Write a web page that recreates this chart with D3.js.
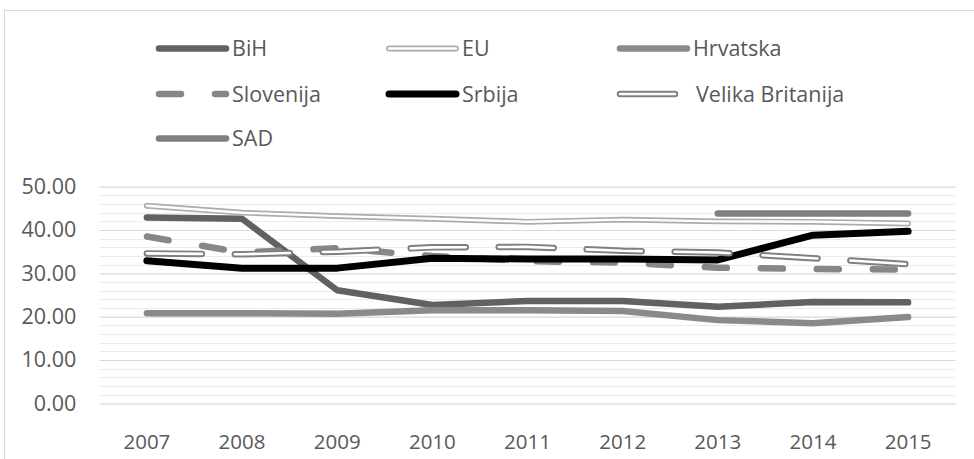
<!DOCTYPE html>
<html>
<head>
<meta charset="utf-8">
<script src="https://cdn.jsdelivr.net/npm/d3@7"></script>
<style>
  html, body { margin: 0; padding: 0; background: #fff; }
  svg { display: block; }
  text { font-family: "Open Sans", "Noto Sans", sans-serif; fill: #595959; }
</style>
</head>
<body>
<svg id="chart" width="974" height="459"></svg>
<script>
// ---- data ----
const years = ["2007", "2008", "2009", "2010", "2011", "2012", "2013", "2014", "2015"];
const seriesNames = ["BiH", "EU", "Hrvatska", "Slovenija", "Srbija", "Velika Britanija", "SAD"];
const bih       = [42.9, 42.6, 26.1, 22.7, 23.6, 23.6, 22.3, 23.4, 23.3];
const eu        = [45.6, 44.0, 43.2, 42.6, 41.9, 42.4, 42.0, 41.9, 41.5];
const hrvatska  = [20.8, 20.8, 20.7, 21.5, 21.5, 21.3, 19.2, 18.5, 19.9];
const slovenija = [38.5, 34.8, 35.8, 34.0, 32.8, 32.5, 31.3, 31.0, 30.9];
const srbija    = [32.9, 31.2, 31.2, 33.5, 33.3, 33.3, 33.1, 38.8, 39.7];
const velikaBritanija = [34.6, 34.4, 35.0, 36.0, 36.1, 35.2, 34.8, 33.5, 32.1];
const sad       = [null, null, null, null, null, null, 43.8, 43.8, 43.8];
const yTicks = [0, 10, 20, 30, 40, 50];

const seriesValues = [bih, eu, hrvatska, slovenija, srbija, velikaBritanija, sad];

// ---- styles ----
const styles = {
  "BiH":              { color: "#616161", width: 6.5 },
  "EU":               { color: "#acacac", width: 5.8, inner: 2.4 },
  "Hrvatska":         { color: "#8a8a8a", width: 6.5 },
  "Slovenija":        { color: "#878787", width: 6.5, dash: "22,34" },
  "Srbija":           { color: "#000000", width: 7 },
  "Velika Britanija": { color: "#7f7f7f", width: 6.5, inner: 2.6, dash: "55,33" },
  "SAD":              { color: "#7f7f7f", width: 6.5 }
};

const svg = d3.select("#chart");

// chart border (top & left visible)
svg.append("rect")
  .attr("x", 4.5).attr("y", 10.5)
  .attr("width", 1000).attr("height", 500)
  .attr("fill", "none").attr("stroke", "#d9d9d9").attr("stroke-width", 1);

const plot = { left: 99.3, right: 955.7, top: 186.7, bottom: 403.3 };

const x = d3.scaleBand().domain(years).range([plot.left, plot.right]).padding(0);
const cx = d => x(d) + x.bandwidth() / 2;
const y = d3.scaleLinear().domain([0, 50]).range([plot.bottom, plot.top]);

// minor gridlines
const minor = d3.range(0, 50.001, 2).filter(v => v % 10 !== 0);
svg.append("g")
  .selectAll("line")
  .data(minor)
  .join("line")
  .attr("x1", plot.left).attr("x2", plot.right)
  .attr("y1", d => Math.round(y(d)) + 0.5).attr("y2", d => Math.round(y(d)) + 0.5)
  .attr("stroke", "#ececec").attr("stroke-width", 1);

// major gridlines + y labels
const yAxis = d3.axisLeft(y)
  .tickValues(yTicks)
  .tickSize(-(plot.right - plot.left))
  .tickPadding(23)
  .tickFormat(d3.format(".2f"));
const gy = svg.append("g")
  .attr("transform", `translate(${plot.left},0)`)
  .call(yAxis);
gy.select(".domain").remove();
gy.selectAll(".tick line").attr("stroke", "#d9d9d9").attr("stroke-width", 1.2);
gy.selectAll(".tick text")
  .attr("font-size", "21.5px")
  .attr("font-family", "\"Open Sans\", sans-serif")
  .attr("fill", "#595959");

// x labels
const xAxis = d3.axisBottom(x).tickSize(0).tickPadding(0);
const gx = svg.append("g")
  .attr("transform", `translate(0,${plot.bottom})`)
  .call(xAxis);
gx.select(".domain").remove();
gx.selectAll(".tick text")
  .attr("y", 38.5)
  .attr("dy", "0.35em")
  .attr("font-size", "20.5px")
  .attr("font-family", "\"Open Sans\", sans-serif")
  .attr("fill", "#595959");

// lines
const line = d3.line()
  .defined(d => d.v != null)
  .x(d => cx(d.year))
  .y(d => y(d.v));

function drawStyled(g, dAttr, st) {
  const p = g.append("path")
    .attr("d", dAttr)
    .attr("fill", "none")
    .attr("stroke", st.color)
    .attr("stroke-width", st.width)
    .attr("stroke-linecap", "round")
    .attr("stroke-linejoin", "round");
  if (st.dash) p.attr("stroke-dasharray", st.dash);
  if (st.inner) {
    const q = g.append("path")
      .attr("d", dAttr)
      .attr("fill", "none")
      .attr("stroke", "#ffffff")
      .attr("stroke-width", st.inner)
      .attr("stroke-linecap", "round")
      .attr("stroke-linejoin", "round");
    if (st.dash) q.attr("stroke-dasharray", st.dash);
  }
}

const linesG = svg.append("g");
seriesNames.forEach((name, i) => {
  const pts = years.map((yr, j) => ({ year: yr, v: seriesValues[i][j] }));
  drawStyled(linesG.append("g"), line(pts), styles[name]);
});

// legend
const legendCols = [156, 386, 617];
const legendRows = [48.5, 94, 138.5];
const sampleLen = 73;
const lg = svg.append("g");
seriesNames.forEach((name, i) => {
  const col = i % 3, row = Math.floor(i / 3);
  const lx = legendCols[col], ly = legendRows[row];
  const g = lg.append("g");
  drawStyled(g, d3.line()([[lx + 3, ly], [lx + sampleLen - 3, ly]]), styles[name]);
  g.append("text")
    .attr("x", lx + sampleLen + (name === "Velika Britanija" ? 6 : 3))
    .attr("y", ly)
    .attr("dy", "0.35em")
    .attr("font-size", "21.5px")
    .attr("fill", "#595959")
    .text(name);
});
</script>
</body>
</html>
